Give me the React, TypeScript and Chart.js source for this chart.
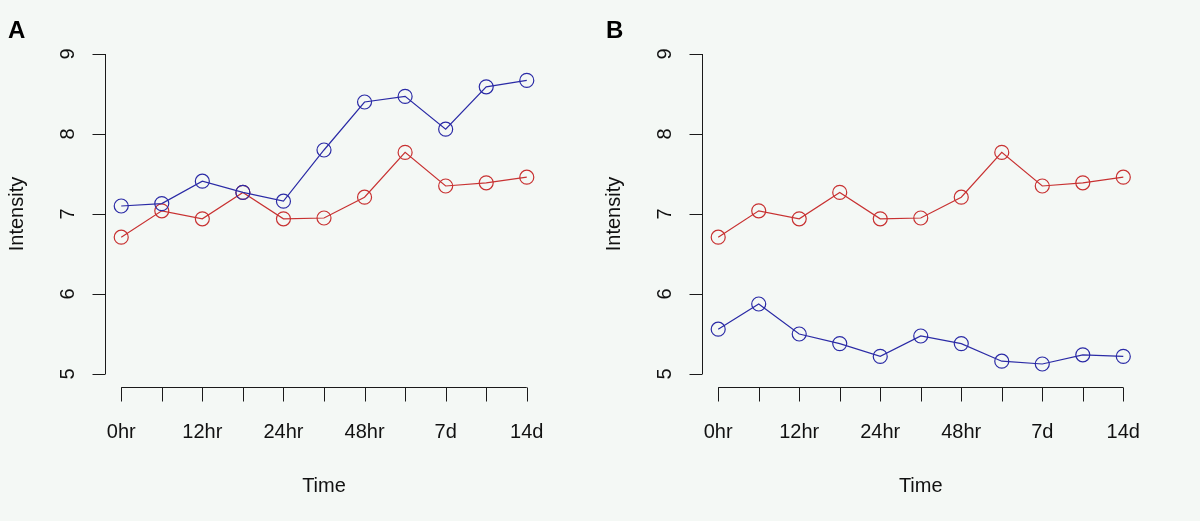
import React, { useEffect, useRef } from "react";
import { Chart, registerables } from "chart.js";

Chart.register(...registerables);

// ---- data ----
const timeLabels = ["0hr", "", "12hr", "", "24hr", "", "48hr", "", "7d", "", "14d"];
const yTickValues = [5, 6, 7, 8, 9];

const panelABlue = [7.1, 7.13, 7.41, 7.27, 7.16, 7.8, 8.4, 8.47, 8.06, 8.59, 8.67];
const panelARed = [6.71, 7.04, 6.94, 7.27, 6.94, 6.95, 7.21, 7.77, 7.35, 7.39, 7.46];
const panelBBlue = [5.56, 5.875, 5.5, 5.38, 5.22, 5.475, 5.38, 5.16, 5.125, 5.24, 5.22];
const panelBRed = [6.71, 7.04, 6.94, 7.27, 6.94, 6.95, 7.21, 7.77, 7.35, 7.39, 7.46];

const BLUE = "#2b2ba6";
const RED = "#c83232";
const AXIS = "#1a1a1a";
const FONT = '"Liberation Sans Narrow", "Liberation Sans", Arial, sans-serif';

const rAxesPlugin = {
  id: "rAxes",
  afterDraw(chart: any) {
    const opts = chart.options.plugins.rAxes;
    const ctx = chart.ctx;
    const xs = chart.scales.x;
    const ys = chart.scales.y;
    const area = chart.chartArea;
    ctx.save();
    ctx.strokeStyle = AXIS;
    ctx.fillStyle = "#111";
    ctx.lineWidth = 1;

    // y axis
    const ax = Math.round(area.left) + 0.5;
    const y0 = ys.getPixelForValue(yTickValues[0]);
    const y1 = ys.getPixelForValue(yTickValues[yTickValues.length - 1]);
    ctx.beginPath();
    ctx.moveTo(ax, y0);
    ctx.lineTo(ax, y1);
    yTickValues.forEach((v) => {
      const py = Math.round(ys.getPixelForValue(v)) + 0.5;
      ctx.moveTo(ax, py);
      ctx.lineTo(ax - 13, py);
    });
    ctx.stroke();
    ctx.font = `20px ${FONT}`;
    ctx.textAlign = "center";
    ctx.textBaseline = "middle";
    yTickValues.forEach((v) => {
      const py = ys.getPixelForValue(v);
      ctx.save();
      ctx.translate(ax - 37, py);
      ctx.rotate(-Math.PI / 2);
      ctx.fillText(String(v), 0, 0);
      ctx.restore();
    });

    // x axis
    const ay = Math.round(area.bottom) + 0.5;
    const xa = xs.getPixelForValue(0);
    const xb = xs.getPixelForValue(timeLabels.length - 1);
    ctx.beginPath();
    ctx.moveTo(xa, ay);
    ctx.lineTo(xb, ay);
    timeLabels.forEach((_, i) => {
      const px = Math.round(xs.getPixelForValue(i)) + 0.5;
      ctx.moveTo(px, ay);
      ctx.lineTo(px, ay + 14);
    });
    ctx.stroke();
    timeLabels.forEach((lab, i) => {
      if (!lab) return;
      const px = xs.getPixelForValue(i);
      ctx.fillText(lab, px, ay + 45);
    });

    // axis titles
    ctx.fillText("Time", (xa + xb) / 2, ay + 99);
    ctx.save();
    ctx.translate(ax - 88, (y0 + y1) / 2);
    ctx.rotate(-Math.PI / 2);
    ctx.fillText("Intensity", 0, 0);
    ctx.restore();

    // panel letter
    ctx.font = `bold 24px "Liberation Sans", Arial, sans-serif`;
    ctx.textAlign = "left";
    ctx.fillStyle = "#000";
    ctx.fillText(opts.letter, opts.letterX, 31);
    ctx.restore();
  },
};

type PanelProps = {
  letter: string;
  letterX: number;
  blue: number[];
  red: number[];
  padLeft: number;
  padRight: number;
};

function Panel({ letter, letterX, blue, red, padLeft, padRight }: PanelProps) {
  const ref = useRef<HTMLCanvasElement | null>(null);
  useEffect(() => {
    if (!ref.current) return;
    const toPts = (arr: number[]) => arr.map((v, i) => ({ x: i, y: v }));
    const ds = (data: number[], color: string) => ({
      data: toPts(data),
      borderColor: color,
      borderWidth: 1.2,
      pointRadius: 7,
      pointBorderWidth: 1.2,
      pointBorderColor: color,
      pointBackgroundColor: "rgba(0,0,0,0)",
      tension: 0,
      fill: false,
    });
    const chart = new Chart(ref.current, {
      type: "line",
      data: {
        datasets: [ds(blue, BLUE), ds(red, RED)],
      },
      options: {
        responsive: false,
        animation: false,
        events: [],
        layout: {
          padding: { left: padLeft, right: padRight, top: 41.2, bottom: 134.2 },
        },
        scales: {
          x: { type: "linear", min: -0.4, max: 10.4, display: false },
          y: { type: "linear", min: 4.84, max: 9.16, display: false },
        },
        plugins: {
          legend: { display: false },
          tooltip: { enabled: false },
          rAxes: { letter, letterX },
        } as any,
      },
      plugins: [rAxesPlugin],
    });
    return () => chart.destroy();
  }, [letter, letterX, blue, red, padLeft, padRight]);
  return <canvas ref={ref} width={600} height={521} style={{ display: "block" }} />;
}

export default function App() {
  return (
    <div
      style={{
        position: "absolute",
        top: 0,
        left: 0,
        width: 1200,
        height: 521,
        display: "flex",
        background: "#f4f8f5",
      }}
    >
      <Panel letter="A" letterX={8} blue={panelABlue} red={panelARed} padLeft={105} padRight={57} />
      <Panel letter="B" letterX={6} blue={panelBBlue} red={panelBRed} padLeft={102} padRight={60.5} />
    </div>
  );
}
